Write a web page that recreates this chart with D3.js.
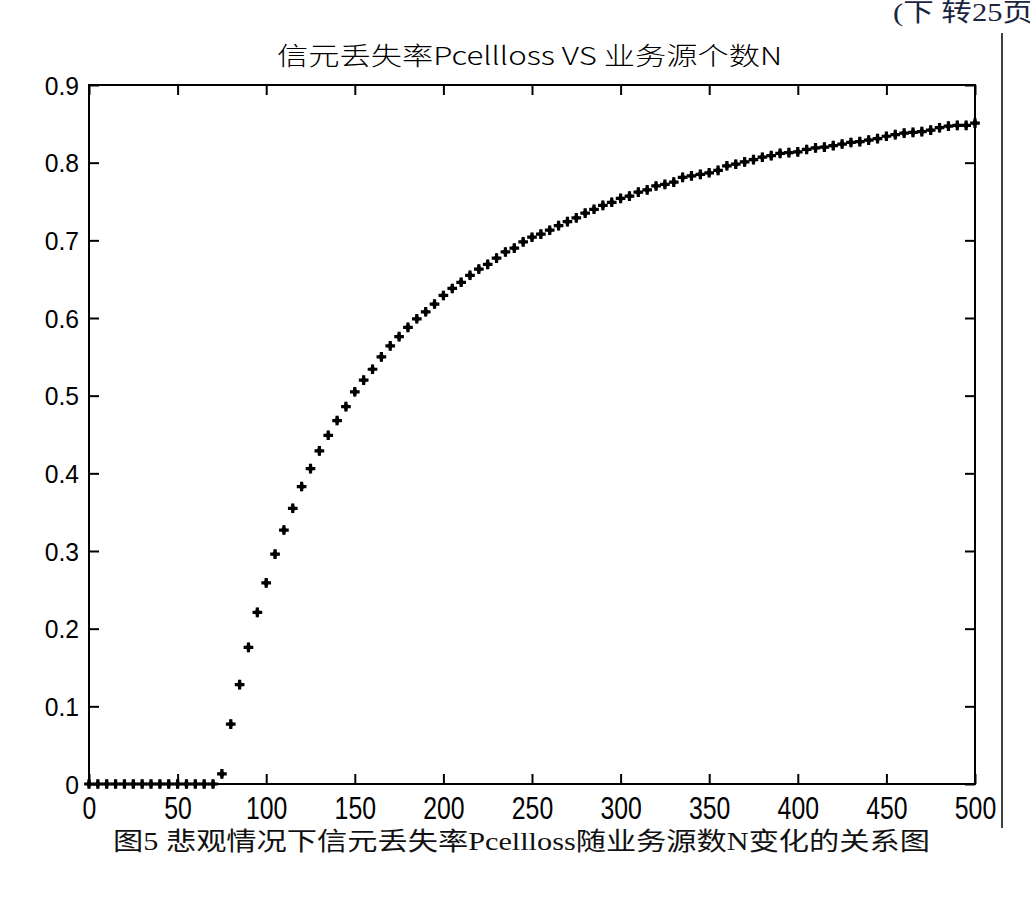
<!DOCTYPE html>
<html>
<head>
<meta charset="utf-8">
<script src="https://cdn.jsdelivr.net/npm/d3@7"></script>
<style>
  html, body { margin: 0; padding: 0; background: #fff; }
  svg { display: block; }
</style>
</head>
<body>
<svg id="chart" width="1030" height="900"></svg>
<script>
// ---- data ----
const title = "信元丢失率Pcellloss VS 业务源个数N";
const caption = "图5  悲观情况下信元丢失率Pcellloss随业务源数N变化的关系图";
const pageNote = "(下 转25页";
const xTicks = [0, 50, 100, 150, 200, 250, 300, 350, 400, 450, 500];
const yTicks = [0, 0.1, 0.2, 0.3, 0.4, 0.5, 0.6, 0.7, 0.8, 0.9];
const sources = [0, 5, 10, 15, 20, 25, 30, 35, 40, 45, 50, 55, 60, 65, 70,
  75, 80, 85, 90, 95, 100, 105, 110, 115, 120, 125, 130, 135, 140, 145,
  150, 155, 160, 165, 170, 175, 180, 185, 190, 195, 200, 205, 210, 215, 220, 225, 230, 235, 240, 245,
  250, 255, 260, 265, 270, 275, 280, 285, 290, 295, 300, 305, 310, 315, 320, 325, 330, 335, 340, 345,
  350, 355, 360, 365, 370, 375, 380, 385, 390, 395, 400, 405, 410, 415, 420, 425, 430, 435, 440, 445,
  450, 455, 460, 465, 470, 475, 480, 485, 490, 495, 500];
const pcellloss = [0, 0, 0, 0, 0, 0, 0, 0, 0, 0, 0, 0, 0, 0, 0,
  0.013, 0.077, 0.128, 0.176, 0.221, 0.259, 0.296, 0.327, 0.355, 0.383, 0.406, 0.429, 0.449, 0.468, 0.486,
  0.505, 0.520, 0.534, 0.550, 0.564, 0.576, 0.588, 0.599, 0.608, 0.618, 0.629, 0.638, 0.646, 0.655, 0.663, 0.669, 0.677, 0.685, 0.690, 0.698,
  0.704, 0.708, 0.713, 0.719, 0.724, 0.729, 0.735, 0.740, 0.745, 0.749, 0.754, 0.757, 0.762, 0.765, 0.770, 0.772, 0.775, 0.781, 0.783, 0.785,
  0.787, 0.790, 0.796, 0.798, 0.801, 0.804, 0.807, 0.809, 0.812, 0.813, 0.814, 0.817, 0.819, 0.820, 0.822, 0.824, 0.826, 0.827, 0.829, 0.831,
  0.834, 0.836, 0.838, 0.839, 0.840, 0.842, 0.845, 0.847, 0.848, 0.848, 0.851];

// ---- layout ----
const svg = d3.select("#chart");
const L = 89, R = 975, T = 85, B = 784;
const x = d3.scaleLinear().domain([0, 500]).range([L, R]);
const y = d3.scaleLinear().domain([0, 0.9]).range([B, T]);
const tickFont = "'Liberation Sans', Arial, sans-serif";

// Frame
svg.append("rect")
  .attr("x", L).attr("y", T).attr("width", R - L).attr("height", B - T)
  .attr("fill", "none").attr("stroke", "#000").attr("stroke-width", 2);

function styleAxis(g) {
  g.select(".domain").remove();
  g.selectAll(".tick line").attr("stroke", "#000").attr("stroke-width", 2);
}

// Bottom axis (inward ticks)
const gx = svg.append("g").attr("transform", `translate(0,${B})`)
  .call(d3.axisBottom(x).tickValues(xTicks).tickFormat(d3.format("d"))
    .tickSizeInner(-10).tickSizeOuter(0).tickPadding(0));
styleAxis(gx);
gx.selectAll(".tick text")
  .attr("y", 0).attr("dy", 0)
  .attr("transform", "translate(0,35) scale(0.8,1)")
  .attr("font-family", tickFont).attr("font-size", 31).attr("fill", "#000");

// Top axis (ticks only)
const gxt = svg.append("g").attr("transform", `translate(0,${T})`)
  .call(d3.axisTop(x).tickValues(xTicks).tickFormat("").tickSizeInner(-10).tickSizeOuter(0));
styleAxis(gxt);

// Left axis
const gy = svg.append("g").attr("transform", `translate(${L},0)`)
  .call(d3.axisLeft(y).tickValues(yTicks).tickFormat(d => d === 0 ? "0" : d3.format(".1f")(d))
    .tickSizeInner(-10).tickSizeOuter(0).tickPadding(0));
styleAxis(gy);
gy.selectAll(".tick text")
  .attr("x", 0).attr("dy", 0).attr("y", 0)
  .attr("transform", "translate(-10,9) scale(0.95,1)")
  .attr("text-anchor", "end")
  .attr("font-family", tickFont).attr("font-size", 26).attr("fill", "#000");

// Right axis
const gyr = svg.append("g").attr("transform", `translate(${R},0)`)
  .call(d3.axisRight(y).tickValues(yTicks).tickFormat("").tickSizeInner(-10).tickSizeOuter(0));
styleAxis(gyr);

// Data markers
const crossPath = d3.symbol().type(d3.symbolCross).size(52)();
const diamondPath = d3.symbol().type(d3.symbolDiamond).size(30)();
const pts = svg.append("g").selectAll("g").data(sources.map((s, i) => [s, pcellloss[i]]))
  .join("g").attr("transform", d => `translate(${x(d[0])},${y(d[1])})`);
pts.append("path").attr("d", crossPath).attr("fill", "#000");
pts.append("path").attr("d", diamondPath).attr("fill", "#000");

// Title
svg.append("text")
  .attr("x", 277).attr("y", 65)
  .attr("textLength", 505).attr("lengthAdjust", "spacingAndGlyphs")
  .attr("font-family", "'Noto Sans CJK SC', 'Liberation Sans', sans-serif")
  .attr("font-weight", 300)
  .attr("font-size", 25).attr("fill", "#000")
  .text(title);

// Caption
svg.append("text")
  .attr("x", 113).attr("y", 850)
  .attr("textLength", 817).attr("lengthAdjust", "spacingAndGlyphs")
  .attr("font-family", "'Liberation Serif', 'Noto Sans CJK SC', serif")
  .attr("font-size", 25).attr("fill", "#111")
  .text(caption);

// Page note (top right, cropped)
svg.append("text")
  .attr("x", 893).attr("y", 21)
  .attr("textLength", 140).attr("lengthAdjust", "spacingAndGlyphs")
  .attr("font-family", "'Liberation Serif', 'Noto Sans CJK SC', serif")
  .attr("font-size", 25).attr("fill", "#1a2540")
  .text(pageNote);

// Vertical rule on the right
svg.append("line")
  .attr("x1", 1002).attr("x2", 1002).attr("y1", 33).attr("y2", 828)
  .attr("stroke", "#000").attr("stroke-width", 1.5);
</script>
</body>
</html>
